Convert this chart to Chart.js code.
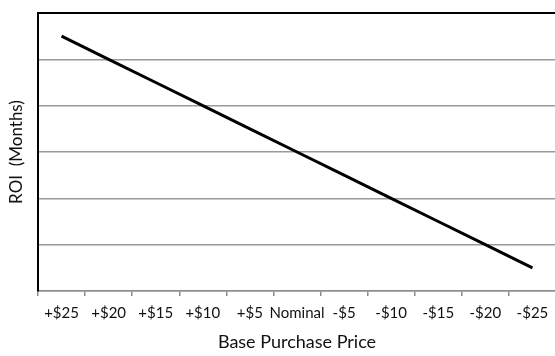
<!DOCTYPE html>
<html>
<head>
<meta charset="utf-8">
<script src="https://cdn.jsdelivr.net/npm/chart.js@4/dist/chart.umd.min.js"></script>
<style>
  html, body { margin: 0; padding: 0; overflow: hidden; background: #fff; }
  #wrap { width: 555px; height: 356px; overflow: hidden; }
</style>
</head>
<body>
<div id="wrap"><canvas id="roi" width="562" height="356"></canvas></div>
<script>
// price change vs nominal, left to right
const priceLabels = ['+$25', '+$20', '+$15', '+$10', '+$5', 'Nominal', '-$5', '-$10', '-$15', '-$20', '-$25']
// ROI in months (axis has no numbers, read as gridline units)
const roiMonths = [5.5, 5.0, 4.5, 4.0, 3.5, 3.0, 2.5, 2.0, 1.5, 1.0, 0.5]
const yMin = 0
const yMax = 6

const fontName = 'Lato, "Open Sans", sans-serif'

const ctx = document.getElementById('roi').getContext('2d')
new Chart(ctx, {
  type: 'line',
  data: {
    labels: priceLabels,
    datasets: [{
      label: 'ROI',
      data: roiMonths,
      borderColor: '#000',
      borderWidth: 3,
      pointRadius: 0,
      tension: 0,
      fill: false
    }]
  },
  options: {
    responsive: false,
    animation: false,
    layout: { padding: { top: 13, right: 6, bottom: 0, left: 0 } },
    plugins: { legend: { display: false }, tooltip: { enabled: false } },
    scales: {
      x: {
        offset: true,
        grid: {
          offset: true,
          drawOnChartArea: false,
          drawTicks: true,
          tickLength: 5,
          color: '#8c8c8c',
          lineWidth: 1.5
        },
        border: { color: '#8c8c8c', width: 1.5 },
        ticks: {
          color: '#111',
          font: { family: fontName, size: 15 },
          maxRotation: 0,
          autoSkip: false,
          padding: 8
        },
        title: {
          display: true,
          text: 'Base Purchase Price',
          color: '#111',
          font: { family: fontName, size: 18 },
          padding: { top: 0, bottom: 3 }
        },
        afterFit: (scale) => { scale.height = 65 }
      },
      y: {
        min: yMin,
        max: yMax,
        grid: {
          drawTicks: false,
          color: (c) => c.tick && c.tick.value === yMax ? '#000' : '#9a9a9a',
          lineWidth: (c) => c.tick && c.tick.value === yMax ? 2 : 1.6
        },
        border: { color: '#000', width: 2 },
        ticks: { display: false, stepSize: 1 },
        title: {
          display: true,
          text: 'ROI  (Months)',
          color: '#111',
          font: { family: fontName, size: 17 },
          padding: { top: 6, bottom: 0 }
        },
        afterFit: (scale) => { scale.width = 38 }
      }
    }
  }
})
</script>
</body>
</html>
